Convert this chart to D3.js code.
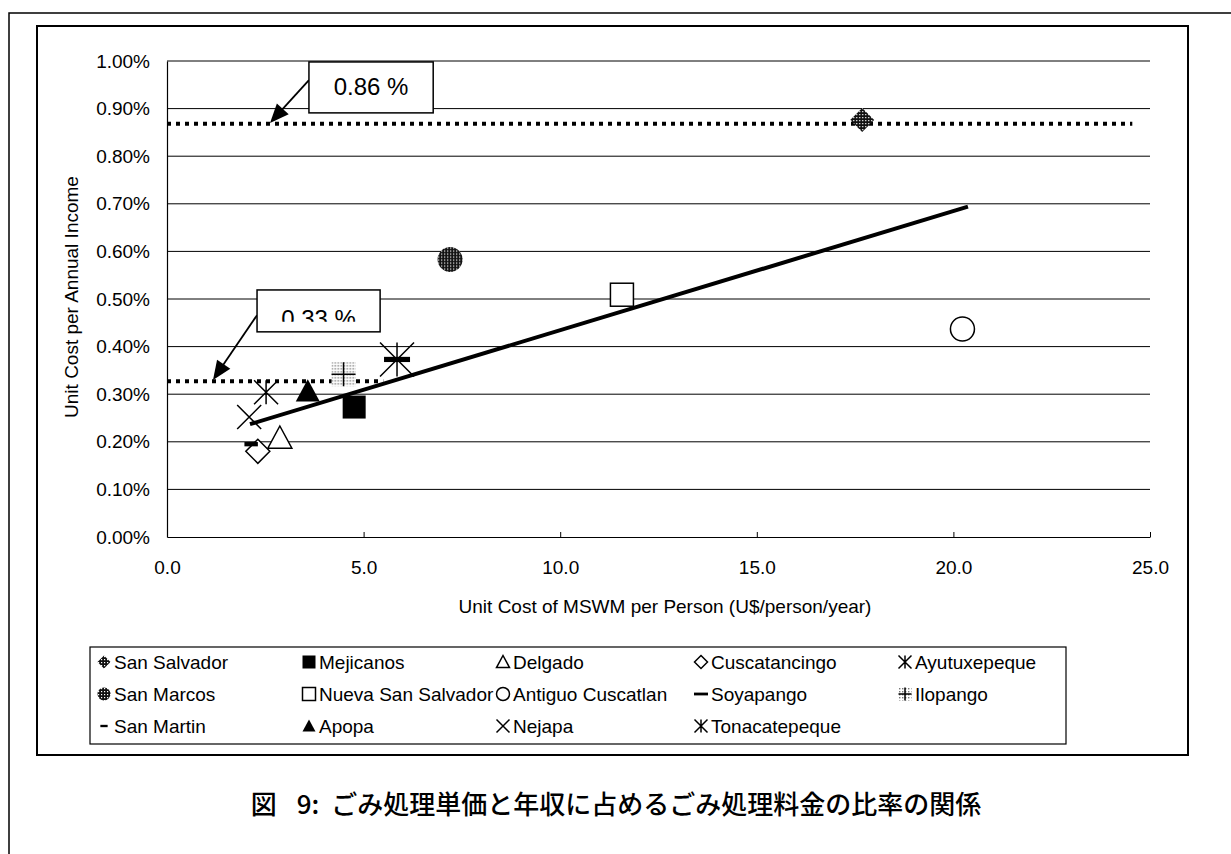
<!DOCTYPE html>
<html>
<head>
<meta charset="utf-8">
<script src="https://cdn.jsdelivr.net/npm/d3@7"></script>
<style>
  body { margin: 0; background: #fff; }
  svg text { font-family: "Liberation Sans", Arial, sans-serif; fill: #000; }
</style>
</head>
<body>
<div id="container"></div>
<script>
"use strict";

// municipalities, in legend order (row by row)
const towns = [
  "San Salvador", "Mejicanos", "Delgado", "Cuscatancingo", "Ayutuxepeque",
  "San Marcos", "Nueva San Salvador", "Antiguo Cuscatlan", "Soyapango", "Ilopango",
  "San Martin", "Apopa", "Nejapa", "Tonacatepeque",
];
// U$/person/year
const unitCost = [17.68, 4.76, 2.87, 2.31, 2.52, 7.2, 11.57, 20.23, 5.85, 4.49, 2.14, 3.58, 2.09, 5.85];
// % of annual income
const incomeRatio = [0.876, 0.273, 0.208, 0.18, 0.304, 0.583, 0.509, 0.437, 0.373, 0.342, 0.195, 0.306, 0.252, 0.373];

const xTicks = [0, 5, 10, 15, 20, 25];
const yTicks = [0, 0.1, 0.2, 0.3, 0.4, 0.5, 0.6, 0.7, 0.8, 0.9, 1.0];

// trend line end points
const trendX = [2.11, 20.37];
const trendY = [0.237, 0.694];

// dotted reference levels and their callouts
const refLevels = [0.868, 0.327];
const refEnds = [24.55, 5.5];
const refLabels = ["0.86 %", "0.33 %"];

const captionParts = ["図", "9:", "ごみ処理単価と年収に占めるごみ処理料金の比率の関係"];

const width = 1231;
const height = 854;
const plotLeft = 167;
const plotRight = 1150;
const plotTop = 61;
const plotBottom = 537;

const markerStyle = {
  "San Salvador": { shape: "diamondDots", size: 24 },
  "Mejicanos": { shape: "squareFill", size: 23 },
  "Delgado": { shape: "triangleOpen", size: 24 },
  "Cuscatancingo": { shape: "diamondOpen", size: 24 },
  "Ayutuxepeque": { shape: "star", size: 24 },
  "San Marcos": { shape: "circleDots", size: 25 },
  "Nueva San Salvador": { shape: "squareOpen", size: 23 },
  "Antiguo Cuscatlan": { shape: "circleOpen", size: 24 },
  "Soyapango": { shape: "dashLong", size: 26 },
  "Ilopango": { shape: "plusDots", size: 24 },
  "San Martin": { shape: "dashShort", size: 24 },
  "Apopa": { shape: "triangleFill", size: 24 },
  "Nejapa": { shape: "cross", size: 24 },
  "Tonacatepeque": { shape: "star", size: 34 },
};

// callout boxes, arrows (data units)
const callouts = [
  { box: [3.61, 6.77, 0.998, 0.891], from: [3.61, 0.96], to: [2.62, 0.87], clip: false },
  { box: [2.29, 5.42, 0.519, 0.431], from: [2.29, 0.466], to: [1.17, 0.33], clip: true },
];

const xScale = d3.scaleLinear().domain([0, 25]).range([plotLeft, plotRight]);
const yScale = d3.scaleLinear().domain([0, 1]).range([plotBottom, plotTop]);

const svg = d3
  .select("#container")
  .append("svg")
  .attr("width", width)
  .attr("height", height);

const defs = svg.append("defs");

const dark = defs
  .append("pattern")
  .attr("id", "dark")
  .attr("width", 3)
  .attr("height", 3)
  .attr("patternUnits", "userSpaceOnUse");
dark.append("rect").attr("width", 3).attr("height", 3).attr("fill", "#111");
dark.append("rect").attr("width", 1.2).attr("height", 1.2).attr("fill", "#fff");

const light = defs
  .append("pattern")
  .attr("id", "light")
  .attr("width", 3)
  .attr("height", 3)
  .attr("patternUnits", "userSpaceOnUse");
light.append("rect").attr("width", 3).attr("height", 3).attr("fill", "#fff");
light.append("rect").attr("width", 1.4).attr("height", 1.4).attr("fill", "#777");

// page frames
svg
  .append("path")
  .attr("d", `M9,${height} L9,13 L${width},13`)
  .attr("fill", "none")
  .attr("stroke", "#000")
  .attr("stroke-width", 1.5);

svg
  .append("rect")
  .attr("x", 37)
  .attr("y", 26)
  .attr("width", 1151)
  .attr("height", 729)
  .attr("fill", "none")
  .attr("stroke", "#000")
  .attr("stroke-width", 2);

// gridlines
svg
  .append("g")
  .selectAll("line")
  .data(yTicks.slice(1))
  .enter()
  .append("line")
  .attr("x1", plotLeft)
  .attr("x2", plotRight)
  .attr("y1", (d) => yScale(d))
  .attr("y2", (d) => yScale(d))
  .attr("stroke", "#000")
  .attr("stroke-width", 1);

const xAxis = d3
  .axisBottom(xScale)
  .tickValues(xTicks)
  .tickFormat(d3.format(".1f"))
  .tickSizeInner(-5)
  .tickSizeOuter(0)
  .tickPadding(24);

const yAxis = d3
  .axisLeft(yScale)
  .tickValues(yTicks)
  .tickFormat((d) => d.toFixed(2) + "%")
  .tickSize(0)
  .tickPadding(17);

const gx = svg
  .append("g")
  .attr("id", "x-axis")
  .attr("transform", `translate(0, ${plotBottom})`)
  .call(xAxis);

const gy = svg
  .append("g")
  .attr("id", "y-axis")
  .attr("transform", `translate(${plotLeft}, 0)`)
  .call(yAxis);

[gx, gy].forEach((g) => {
  g.select(".domain").attr("stroke", "#000").attr("stroke-width", 1.2);
  g.selectAll(".tick line").attr("stroke", "#000");
  g.selectAll("text")
    .style("font-family", '"Liberation Sans", Arial, sans-serif')
    .style("font-size", "19px")
    .attr("fill", "#000");
});

svg
  .append("text")
  .attr("text-anchor", "middle")
  .attr("transform", "translate(78, 297) rotate(-90)")
  .style("font-size", "19px")
  .text("Unit Cost per Annual Income");

svg
  .append("text")
  .attr("text-anchor", "middle")
  .attr("x", 665)
  .attr("y", 613)
  .style("font-size", "19px")
  .text("Unit Cost of MSWM per Person (U$/person/year)");

// dotted reference lines
svg
  .append("g")
  .selectAll("line")
  .data(refLevels)
  .enter()
  .append("line")
  .attr("x1", xScale(0))
  .attr("x2", (d, i) => xScale(refEnds[i]))
  .attr("y1", (d) => yScale(d))
  .attr("y2", (d) => yScale(d))
  .attr("stroke", "#000")
  .attr("stroke-width", 4)
  .attr("stroke-dasharray", "4,5");

// trend line
svg
  .append("path")
  .datum(trendX.map((x, i) => [x, trendY[i]]))
  .attr("d", d3.line().x((d) => xScale(d[0])).y((d) => yScale(d[1])))
  .attr("fill", "none")
  .attr("stroke", "#000")
  .attr("stroke-width", 4);

const drawMarker = (g, shape, s) => {
  const h = s / 2;
  const sw = 1.5;
  const tri = `M0,${-h} L${h},${h * 0.85} L${-h},${h * 0.85}Z`;
  const dia = `M0,${-h} L${h},0 L0,${h} L${-h},0Z`;
  if (shape === "diamondDots") {
    g.append("path").attr("d", dia).attr("fill", "url(#dark)");
  } else if (shape === "diamondOpen") {
    g.append("path").attr("d", dia).attr("fill", "#fff").attr("stroke", "#000").attr("stroke-width", sw);
  } else if (shape === "squareFill") {
    g.append("rect").attr("x", -h).attr("y", -h).attr("width", s).attr("height", s).attr("fill", "#000");
  } else if (shape === "squareOpen") {
    g.append("rect").attr("x", -h).attr("y", -h).attr("width", s).attr("height", s)
      .attr("fill", "#fff").attr("stroke", "#000").attr("stroke-width", sw);
  } else if (shape === "triangleOpen") {
    g.append("path").attr("d", tri).attr("fill", "#fff").attr("stroke", "#000").attr("stroke-width", sw);
  } else if (shape === "triangleFill") {
    g.append("path").attr("d", tri).attr("fill", "#000");
  } else if (shape === "circleDots") {
    g.append("circle").attr("r", h).attr("fill", "url(#dark)");
  } else if (shape === "circleOpen") {
    g.append("circle").attr("r", h).attr("fill", "#fff").attr("stroke", "#000").attr("stroke-width", sw);
  } else if (shape === "dashLong") {
    g.append("rect").attr("x", -h).attr("y", -s * 0.1).attr("width", s).attr("height", s * 0.2).attr("fill", "#000");
  } else if (shape === "dashShort") {
    g.append("rect").attr("x", -s * 0.28).attr("y", -s * 0.09).attr("width", s * 0.56).attr("height", s * 0.18).attr("fill", "#000");
  } else if (shape === "plusDots") {
    g.append("rect").attr("x", -h).attr("y", -h).attr("width", s).attr("height", s).attr("fill", "url(#light)");
    g.append("path").attr("d", `M${-h},0 L${h},0 M0,${-h} L0,${h}`).attr("stroke", "#000").attr("stroke-width", sw);
  } else if (shape === "cross") {
    g.append("path").attr("d", `M${-h},${-h} L${h},${h} M${h},${-h} L${-h},${h}`)
      .attr("stroke", "#000").attr("stroke-width", sw);
  } else if (shape === "star") {
    g.append("path").attr("d", `M${-h},${-h} L${h},${h} M${h},${-h} L${-h},${h} M0,${-h} L0,${h}`)
      .attr("stroke", "#000").attr("stroke-width", sw);
  }
};

// points
const points = towns.map((t, i) => ({ town: t, x: unitCost[i], y: incomeRatio[i] }));
const drawOrder = ["Tonacatepeque", "Soyapango"];
points.sort((a, b) => drawOrder.indexOf(a.town) - drawOrder.indexOf(b.town));

svg
  .append("g")
  .selectAll("g")
  .data(points)
  .enter()
  .append("g")
  .attr("transform", (d) => `translate(${xScale(d.x)}, ${yScale(d.y)})`)
  .each(function (d) {
    const st = markerStyle[d.town];
    drawMarker(d3.select(this), st.shape, st.size);
  });

// callouts
callouts.forEach((c, i) => {
  const x0 = xScale(c.box[0]);
  const x1 = xScale(c.box[1]);
  const y0 = yScale(c.box[2]);
  const y1 = yScale(c.box[3]);

  const sx = xScale(c.from[0]);
  const sy = yScale(c.from[1]);
  const tx = xScale(c.to[0]);
  const ty = yScale(c.to[1]);
  const len = Math.hypot(tx - sx, ty - sy);
  const ux = (tx - sx) / len;
  const uy = (ty - sy) / len;
  const L = 19;
  const w = 8;
  svg
    .append("line")
    .attr("x1", sx)
    .attr("y1", sy)
    .attr("x2", tx - ux * L * 0.8)
    .attr("y2", ty - uy * L * 0.8)
    .attr("stroke", "#000")
    .attr("stroke-width", 1.8);
  svg
    .append("path")
    .attr(
      "d",
      `M${tx},${ty} L${tx - ux * L - uy * w},${ty - uy * L + ux * w} L${tx - ux * L + uy * w},${ty - uy * L - ux * w}Z`
    )
    .attr("fill", "#000");

  svg
    .append("rect")
    .attr("x", x0)
    .attr("y", y0)
    .attr("width", x1 - x0)
    .attr("height", y1 - y0)
    .attr("fill", "#fff")
    .attr("stroke", "#000")
    .attr("stroke-width", 1.5);

  const label = svg
    .append("text")
    .attr("text-anchor", "middle")
    .attr("x", (x0 + x1) / 2)
    .attr("y", c.clip ? y1 - 5 : (y0 + y1) / 2 + 8)
    .style("font-size", "24px")
    .text(refLabels[i]);

  if (c.clip) {
    defs
      .append("clipPath")
      .attr("id", "clip" + i)
      .append("rect")
      .attr("x", x0)
      .attr("y", y0)
      .attr("width", x1 - x0)
      .attr("height", y1 - y0 - 10);
    label.attr("clip-path", `url(#clip${i})`);
  }
});

// legend
const legendCols = [104, 309, 503, 701, 905];
const legendRows = [662, 694, 726];

svg
  .append("rect")
  .attr("x", 90)
  .attr("y", 647)
  .attr("width", 976)
  .attr("height", 97)
  .attr("fill", "#fff")
  .attr("stroke", "#000")
  .attr("stroke-width", 1.2);

const legendItems = svg
  .append("g")
  .selectAll("g")
  .data(towns)
  .enter()
  .append("g")
  .attr("transform", (d, i) => `translate(${legendCols[i % 5]}, ${legendRows[Math.floor(i / 5)]})`);

legendItems.each(function (d) {
  const st = markerStyle[d];
  const s = st.shape === "dashLong" ? 14 : 13;
  drawMarker(d3.select(this), st.shape, s);
});

legendItems
  .append("text")
  .attr("x", 10)
  .attr("dy", "0.35em")
  .style("font-size", "19px")
  .text((d) => d);

// figure caption
const caption = svg
  .append("text")
  .attr("text-anchor", "middle")
  .attr("x", 616)
  .attr("y", 814)
  .style("font-family", '"Noto Sans CJK JP", sans-serif')
  .style("font-size", "26px")
  .style("font-weight", "500");

caption
  .selectAll("tspan")
  .data(captionParts)
  .enter()
  .append("tspan")
  .attr("dx", (d, i) => (i === 0 ? 0 : i === 1 ? 20 : 12))
  .text((d) => d);
</script>
</body>
</html>
